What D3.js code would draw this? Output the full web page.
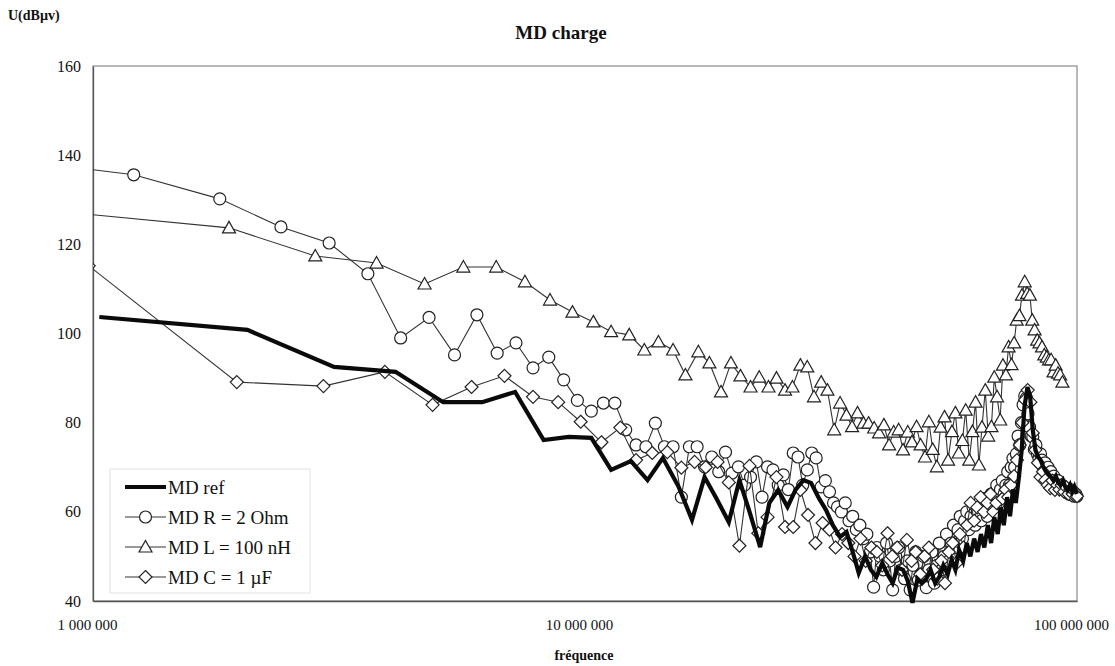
<!DOCTYPE html>
<html>
<head>
<meta charset="utf-8">
<script src="https://cdn.jsdelivr.net/npm/d3@7/dist/d3.min.js"></script>
<style>
  html, body { margin: 0; padding: 0; background: #fff; }
  svg { display: block; }
  text { font-family: "Liberation Serif", "Times New Roman", serif; fill: #111; }
</style>
</head>
<body>
<svg id="chart" width="1115" height="666"></svg>
<script>
// ---------- DATA (frequencies in MHz, values in dBµV) ----------
const xTickValues = [1, 10, 100];
const xTickLabels = ["1 000 000", "10 000 000", "100 000 000"];
const yTickValues = [40, 60, 80, 100, 120, 140, 160];

const seriesNames = ["MD ref", "MD R = 2 Ohm", "MD L = 100 nH", "MD C = 1 µF"];

const refFreq = [1.03, 2.06, 3.09, 4.12, 5.15, 6.18, 7.21, 8.24, 9.27, 10.3, 11.3, 12.4, 13.4, 14.4, 15.5, 16.5, 17.5, 18.5, 19.6, 20.6,
  21.6, 22.7, 23.7, 24.7, 25.8, 26.8, 27.8, 28.8, 29.9, 30.9, 31.9, 33.0, 34.0, 35.0, 36.0, 37.1, 38.1, 39.1, 40.2, 41.2,
  42.2, 43.2, 44.3, 45.3, 46.3, 47.4, 48.4, 49.4, 50.4, 51.5, 52.5, 53.5, 54.6, 55.6, 56.6, 57.6, 58.7, 59.7, 60.7, 61.8,
  62.8, 63.8, 64.8, 65.9, 66.9, 67.9, 69.0, 70.0, 71.0, 72.1, 73.1, 74.1, 75.1, 76.2, 77.2, 78.2, 79.3, 80.3, 81.3, 82.3,
  83.4, 84.4, 85.4, 86.5, 87.5, 88.5, 89.6, 90.6, 91.6, 92.6, 93.7, 94.7, 95.7, 96.8, 97.8, 98.8, 99.9];
const refVal = [103.7, 100.8, 92.5, 91.4, 84.6, 84.6, 86.9, 76.1, 76.8, 76.6, 69.4, 71.4, 67.1, 72.1, 65.6, 58.2, 67.8, 63.0, 57.7, 67.1,
  60.0, 52.1, 62.0, 64.9, 61.1, 65.0, 67.1, 66.5, 63.0, 60.4, 57.0, 54.4, 55.5, 51.0, 46.3, 50.0, 47.0, 45.4, 48.5, 46.0,
  44.0, 47.5, 47.0, 44.5, 39.6, 45.0, 44.0, 45.0, 47.0, 44.0, 45.4, 48.0, 46.0, 49.2, 47.0, 51.4, 49.0, 53.0, 50.0, 54.0,
  51.0, 55.0, 52.0, 57.0, 53.0, 58.8, 55.0, 61.0, 57.0, 63.3, 59.0, 65.0, 62.0, 67.8, 73.9, 83.5, 88.0, 86.0, 78.4, 73.9,
  72.3, 71.5, 70.1, 69.0, 68.5, 67.8, 67.0, 68.0, 66.5, 66.0, 67.0, 65.5, 64.9, 66.0, 64.5, 65.6, 64.0];

const rFreq = [0.603, 1.21, 1.81, 2.41, 3.02, 3.62, 4.22, 4.82, 5.43, 6.03, 6.63, 7.24, 7.84, 8.44, 9.05, 9.65, 10.3, 10.9, 11.5, 12.1,
  12.7, 13.3, 13.9, 14.5, 15.1, 15.7, 16.3, 16.9, 17.5, 18.1, 18.7, 19.3, 19.9, 20.5, 21.1, 21.7, 22.3, 22.9, 23.5, 24.1,
  24.7, 25.3, 25.9, 26.5, 27.1, 27.7, 28.3, 28.9, 29.5, 30.2, 30.8, 31.4, 32.0, 32.6, 33.2, 33.8, 34.4, 35.0, 35.6, 36.2,
  36.8, 37.4, 38.0, 38.6, 39.2, 39.8, 40.4, 41.0, 41.6, 42.2, 42.8, 43.4, 44.0, 44.6, 45.2, 45.8, 46.4, 47.0, 47.6, 48.2,
  48.8, 49.4, 50.0, 50.7, 51.3, 51.9, 52.5, 53.1, 53.7, 54.3, 54.9, 55.5, 56.1, 56.7, 57.3, 57.9, 58.5, 59.1, 59.7, 60.3,
  60.9, 61.5, 62.1, 62.7, 63.3, 63.9, 64.5, 65.1, 65.7, 66.3, 66.9, 67.5, 68.1, 68.7, 69.3, 69.9, 70.5, 71.1, 71.7, 72.3,
  72.9, 73.5, 74.1, 74.7, 75.3, 75.9, 76.5, 77.1, 77.7, 78.3, 78.9, 79.5, 80.1, 80.7, 81.3, 81.9, 82.5, 83.1, 83.7, 84.3,
  84.9, 85.5, 86.1, 86.7, 87.3, 87.9, 88.5, 89.1, 89.7, 90.3, 90.9, 91.5, 92.1, 92.7, 93.3, 93.9, 94.5, 95.1, 95.7, 96.3,
  96.9, 97.5, 98.1, 98.7, 99.3, 99.9];
const rVal = [139.7, 135.6, 130.2, 123.9, 120.3, 113.4, 99.0, 103.6, 95.2, 104.2, 95.6, 97.9, 92.3, 94.7, 89.6, 85.0, 82.6, 84.4, 84.4, 78.4,
  75.0, 74.6, 79.9, 74.6, 74.6, 63.3, 74.6, 74.6, 70.1, 72.3, 69.0, 73.4, 68.7, 70.1, 66.0, 67.8, 71.2, 63.3, 70.1, 69.4,
  66.0, 68.3, 65.0, 73.2, 72.3, 66.0, 69.4, 73.2, 72.1, 65.6, 67.0, 64.5, 62.0, 61.1, 60.0, 62.0, 58.0, 59.0, 56.0, 57.0,
  54.0, 55.0, 51.0, 43.1, 52.0, 50.0, 47.0, 53.0, 49.0, 42.5, 50.0, 52.0, 47.0, 45.0, 49.0, 42.5, 48.0, 51.0, 44.7, 46.0,
  50.0, 43.0, 47.0, 51.0, 44.0, 48.0, 53.0, 47.0, 50.0, 55.0, 49.0, 53.0, 57.0, 52.0, 56.0, 59.0, 54.0, 58.0, 60.0, 56.0,
  59.0, 61.0, 57.0, 60.0, 62.0, 58.0, 61.0, 63.0, 59.0, 62.0, 64.0, 61.0, 64.0, 66.0, 62.0, 65.0, 67.0, 64.0, 66.0, 69.0,
  66.0, 70.0, 72.0, 70.0, 73.0, 77.0, 75.0, 80.0, 84.0, 86.0, 85.5, 82.0, 79.0, 77.0, 76.8, 74.0, 75.0, 73.0, 72.0, 73.0,
  71.6, 70.0, 71.0, 69.5, 70.0, 68.7, 69.0, 67.5, 68.0, 67.0, 66.5, 67.0, 66.0, 65.6, 66.0, 65.0, 65.5, 64.5, 65.0, 64.0,
  65.0, 64.0, 64.5, 63.5, 64.0, 63.5];

const lFreq = [0.943, 1.89, 2.83, 3.77, 4.72, 5.66, 6.60, 7.55, 8.49, 9.43, 10.4, 11.3, 12.3, 13.2, 14.1, 15.1, 16.0, 17.0, 17.9, 18.9,
  19.8, 20.7, 21.7, 22.6, 23.6, 24.5, 25.5, 26.4, 27.4, 28.3, 29.2, 30.2, 31.1, 32.1, 33.0, 34.0, 34.9, 35.8, 36.8, 37.7,
  38.7, 39.6, 40.5, 41.5, 42.4, 43.4, 44.3, 45.3, 46.2, 47.2, 48.1, 49.1, 50.0, 50.9, 51.9, 52.8, 53.8, 54.7, 55.7, 56.6,
  57.5, 58.5, 59.4, 60.4, 61.3, 62.2, 63.2, 64.1, 65.1, 66.0, 67.0, 67.9, 68.8, 69.8, 70.7, 71.7, 72.6, 73.6, 74.5, 75.4,
  76.4, 77.3, 78.3, 79.2, 80.2, 81.1, 82.0, 83.0, 83.9, 84.9, 85.8, 86.8, 87.7, 88.6, 89.6, 90.5, 91.5, 92.4, 93.4];
const lVal = [126.9, 123.7, 117.4, 115.8, 111.1, 114.9, 114.9, 111.6, 107.5, 104.8, 102.6, 100.4, 99.7, 96.3, 98.1, 96.3, 90.7, 95.9, 93.4, 86.9,
  93.4, 90.5, 88.0, 90.2, 88.0, 90.0, 87.3, 88.0, 92.9, 92.5, 85.8, 89.1, 87.3, 78.4, 84.4, 81.7, 79.1, 82.2, 79.9, 79.9,
  78.8, 77.7, 79.5, 75.0, 77.9, 78.4, 73.9, 77.9, 75.7, 79.1, 75.0, 72.3, 80.2, 74.0, 70.1, 79.0, 81.3, 71.6, 78.0, 82.2,
  73.2, 76.0, 82.8, 71.6, 78.0, 84.6, 70.5, 79.0, 87.3, 77.0, 79.1, 90.2, 85.8, 80.6, 92.9, 90.7, 97.0, 93.0, 97.9, 103.0,
  104.0, 108.6, 111.6, 109.0, 108.6, 103.0, 100.8, 98.5, 97.9, 97.0, 95.2, 94.7, 94.1, 94.1, 91.4, 92.9, 91.1, 90.7, 89.1];

const cFreq = [0.98, 1.96, 2.94, 3.92, 4.90, 5.88, 6.86, 7.84, 8.82, 9.80, 10.8, 11.8, 12.7, 13.7, 14.7, 15.7, 16.7, 17.6, 18.6, 19.6,
  20.6, 21.6, 22.5, 23.5, 24.5, 25.5, 26.5, 27.4, 28.4, 29.4, 30.4, 31.4, 32.3, 33.3, 34.3, 35.3, 36.3, 37.2, 38.2, 39.2,
  40.2, 41.2, 42.1, 43.1, 44.1, 45.1, 46.1, 47.0, 48.0, 49.0, 50.0, 51.0, 52.0, 53.0, 53.9, 54.9, 55.9, 56.9, 57.8, 58.8,
  59.8, 60.8, 61.8, 62.7, 63.7, 64.7, 65.7, 66.7, 67.6, 68.6, 69.6, 70.6, 71.6, 72.5, 73.5, 74.5, 75.5, 76.5, 77.4, 78.4,
  79.4, 80.4, 81.3, 82.3, 83.3, 84.3, 85.3, 86.2, 87.2, 88.2, 89.2, 90.2, 91.2, 92.1, 93.1, 94.1, 95.1, 96.1, 97.0, 98.0,
  99.0, 100.0];
const cVal = [115.2, 89.1, 88.2, 91.4, 84.0, 88.0, 90.5, 85.8, 84.6, 80.2, 75.6, 78.9, 71.6, 73.2, 73.4, 69.9, 71.2, 70.0, 71.2, 66.6,
  52.4, 70.3, 55.2, 58.8, 67.8, 56.6, 56.6, 64.9, 59.3, 53.0, 57.5, 56.0, 52.0, 55.0, 53.0, 50.0, 54.0, 49.0, 52.0, 51.0,
  48.0, 55.2, 50.0, 52.0, 47.0, 53.7, 49.0, 51.0, 46.0, 50.0, 52.0, 47.0, 45.0, 49.0, 44.0, 51.0, 53.0, 48.5, 55.0, 52.0,
  57.0, 62.0, 58.0, 61.0, 63.3, 60.0, 62.0, 64.0, 60.0, 62.0, 58.8, 63.0, 65.0, 63.3, 66.0, 68.0, 71.6, 75.0, 80.0, 85.1,
  87.3, 84.6, 77.7, 73.9, 71.0, 67.8, 69.0, 67.1, 66.0, 65.3, 67.0, 64.9, 66.0, 65.0, 66.0, 64.5, 65.5, 64.0, 65.0, 64.0,
  64.5, 63.5];

// ---------- LAYOUT ----------
const svg = d3.select("#chart");
const plot = { left: 93, right: 1077, top: 66, bottom: 601 };

const x = d3.scaleLog().domain([1, 100]).range([plot.left, plot.right]);
const y = d3.scaleLinear().domain([40, 160]).range([plot.bottom, plot.top]);

svg.append("defs").append("clipPath").attr("id", "clip")
  .append("rect").attr("x", plot.left).attr("y", 0)
  .attr("width", 1115 - plot.left).attr("height", 666);

// frame
svg.append("rect")
  .attr("x", plot.left).attr("y", plot.top)
  .attr("width", plot.right - plot.left).attr("height", plot.bottom - plot.top)
  .attr("fill", "none").attr("stroke", "#8a8a8a").attr("stroke-width", 1.2);

// axes
const yAxis = svg.append("g").attr("transform", `translate(${plot.left},0)`)
  .call(d3.axisLeft(y).tickValues(yTickValues).tickSize(0).tickPadding(12));
yAxis.select(".domain").attr("stroke", "#555").attr("stroke-width", 1.3);
yAxis.selectAll("text").attr("font-size", 16).attr("font-family", "Liberation Serif").attr("fill", "#222");

const xAxis = svg.append("g").attr("transform", `translate(0,${plot.bottom})`)
  .call(d3.axisBottom(x).tickValues(xTickValues).tickFormat((d, i) => xTickLabels[i]).tickSize(0).tickPadding(18));
xAxis.select(".domain").attr("stroke", "#555").attr("stroke-width", 1.5);
xAxis.selectAll("text").attr("font-size", 15).attr("font-family", "Liberation Serif").attr("fill", "#222").attr("dx", -6);

// titles
svg.append("text").attr("x", 561).attr("y", 39).attr("text-anchor", "middle")
  .attr("font-size", 19).attr("font-weight", "bold").text("MD charge");
svg.append("text").attr("x", 8).attr("y", 20)
  .attr("font-size", 14).attr("font-weight", "bold").text("U(dBµv)");
svg.append("text").attr("x", 584).attr("y", 660).attr("text-anchor", "middle")
  .attr("font-size", 14).attr("font-weight", "bold").text("fréquence");

// series
const zip = (fs, vs) => fs.map((f, i) => ({ f, v: vs[i] }));
const line = d3.line().x(d => x(d.f)).y(d => y(d.v));
const gData = svg.append("g").attr("clip-path", "url(#clip)");

const triPath = "M0,-6.5L6.5,5L-6.5,5Z";
const diaPath = "M0,-6.5L6.5,0L0,6.5L-6.5,0Z";

function drawSeries(data, opts) {
  const g = gData.append("g");
  g.append("path").datum(data).attr("d", line)
    .attr("fill", "none").attr("stroke", opts.color).attr("stroke-width", opts.width)
    .attr("stroke-linejoin", "miter");
  if (opts.marker === "circle") {
    g.selectAll("circle").data(data).join("circle")
      .attr("cx", d => x(d.f)).attr("cy", d => y(d.v)).attr("r", 6)
      .attr("fill", "#fff").attr("stroke", "#222").attr("stroke-width", 1.2);
  } else if (opts.marker) {
    g.selectAll("path.m").data(data).join("path").attr("class", "m")
      .attr("d", opts.marker)
      .attr("transform", d => `translate(${x(d.f)},${y(d.v)})`)
      .attr("fill", "#fff").attr("stroke", "#222").attr("stroke-width", 1.2);
  }
}

drawSeries(zip(rFreq, rVal), { color: "#333", width: 1.1, marker: "circle" });
drawSeries(zip(lFreq, lVal), { color: "#333", width: 1.1, marker: triPath });
drawSeries(zip(cFreq, cVal), { color: "#333", width: 1.1, marker: diaPath });
drawSeries(zip(refFreq, refVal), { color: "#0a0a0a", width: 4.2 });

// legend
const leg = svg.append("g");
leg.append("rect").attr("x", 110).attr("y", 469).attr("width", 200).attr("height", 124)
  .attr("fill", "#fff").attr("stroke", "#e2e2e2").attr("stroke-width", 1);
const legMarkers = [null, "circle", triPath, diaPath];
seriesNames.forEach((name, i) => {
  const cy = 487 + i * 30;
  const g = leg.append("g");
  g.append("line").attr("x1", 125).attr("x2", 166).attr("y1", cy).attr("y2", cy)
    .attr("stroke", i === 0 ? "#0a0a0a" : "#333").attr("stroke-width", i === 0 ? 4.2 : 1.1);
  if (legMarkers[i] === "circle") {
    g.append("circle").attr("cx", 145.5).attr("cy", cy).attr("r", 6)
      .attr("fill", "#fff").attr("stroke", "#222").attr("stroke-width", 1.2);
  } else if (legMarkers[i]) {
    g.append("path").attr("d", legMarkers[i]).attr("transform", `translate(145.5,${cy})`)
      .attr("fill", "#fff").attr("stroke", "#222").attr("stroke-width", 1.2);
  }
  g.append("text").attr("x", 168).attr("y", cy + 6.5).attr("font-size", 19).text(name);
});
</script>
</body>
</html>
